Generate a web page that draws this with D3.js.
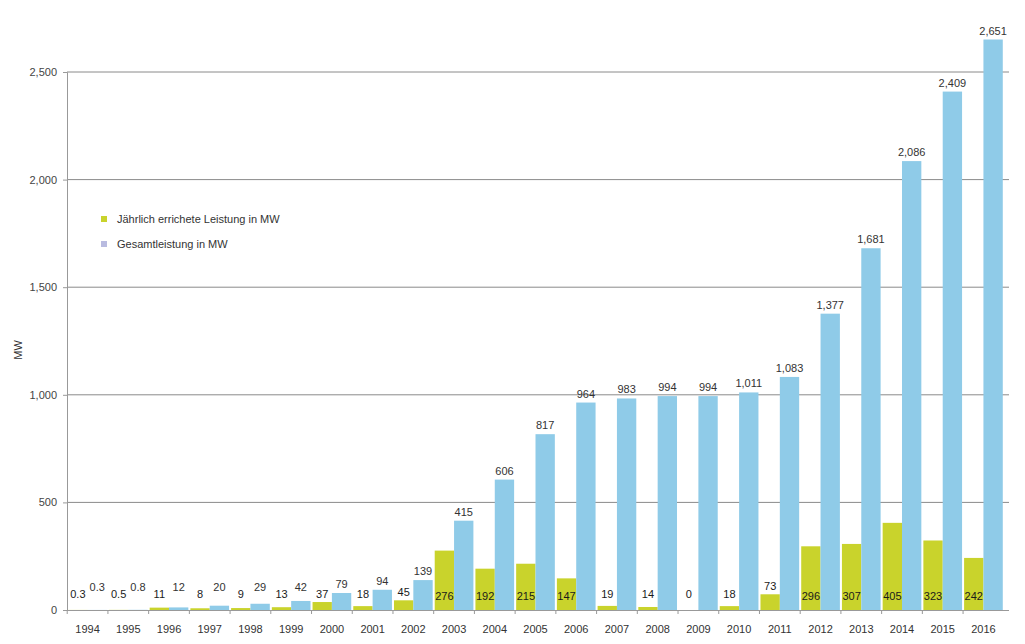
<!DOCTYPE html>
<html><head><meta charset="utf-8">
<script src="https://cdn.jsdelivr.net/npm/d3@7"></script>
<style>
html,body{margin:0;padding:0;background:#fff;}
text{font-family:"Liberation Sans",Arial,Helvetica,sans-serif;}
</style></head>
<body><svg id="c" width="1025" height="644"></svg>
<script>
const years = ["1994","1995","1996","1997","1998","1999","2000","2001","2002","2003","2004","2005","2006","2007","2008","2009","2010","2011","2012","2013","2014","2015","2016"];
const annual = [0.3,0.5,11,8,9,13,37,18,45,276,192,215,147,19,14,0,18,73,296,307,405,323,242];
const total = [0.3,0.8,12,20,29,42,79,94,139,415,606,817,964,983,994,994,1011,1083,1377,1681,2086,2409,2651];
const yTicks = [0,500,1000,1500,2000,2500];
const seriesNames = ["Jährlich errichete Leistung in MW","Gesamtleistung in MW"];
const yLabel = "MW";

const svg = d3.select("#c");
const mLeft = 67, mRight = 1009, mBottom = 610;
const x = d3.scaleBand().domain(years).range([mLeft, 1004]).paddingInner(0.05).paddingOuter(0.03);
const xs = d3.scaleBand().domain([0,1]).range([0, x.bandwidth()]);
const y = d3.scaleLinear().domain([0,2500]).range([mBottom, 72]);
const fmt = d3.format(",");
const cYellow = "#c9d32c", cBlue = "#8fcbe8";

// gridlines
svg.append("g").selectAll("line").data(yTicks.filter(d=>d>0)).join("line")
  .attr("x1", mLeft).attr("x2", mRight).attr("y1", d=>y(d)).attr("y2", d=>y(d))
  .attr("stroke", "#8a8a8a").attr("stroke-width", 1);

// y axis
const ya = svg.append("g").attr("transform", `translate(${mLeft},0)`)
  .call(d3.axisLeft(y).tickValues(yTicks).tickFormat(fmt).tickSize(4).tickPadding(6));
ya.select(".domain").attr("stroke", "#999");
ya.selectAll(".tick line").attr("stroke", "#999");
ya.selectAll("text").attr("font-size", 11).attr("fill", "#444");

svg.append("text").attr("transform", `translate(22,350) rotate(-90)`)
  .attr("text-anchor","middle").attr("font-size", 11).attr("fill","#333").text(yLabel);

// bars
const g = svg.append("g");
g.selectAll(".ya").data(years).join("rect")
  .attr("x", d=>x(d)+xs(0)).attr("width", xs.bandwidth())
  .attr("y", (d,i)=>y(annual[i])).attr("height", (d,i)=>mBottom - y(annual[i]))
  .attr("fill", cYellow);
g.selectAll(".bl").data(years).join("rect")
  .attr("x", d=>x(d)+xs(1)).attr("width", xs.bandwidth())
  .attr("y", (d,i)=>y(total[i])).attr("height", (d,i)=>mBottom - y(total[i]))
  .attr("fill", cBlue);

// x axis
svg.append("line").attr("x1", mLeft).attr("x2", mRight).attr("y1", mBottom+0.5).attr("y2", mBottom+0.5).attr("stroke","#999");
const xa = svg.append("g").attr("transform", `translate(0,${mBottom})`)
  .call(d3.axisBottom(x).tickSize(0).tickPadding(15));
xa.select(".domain").remove();
xa.selectAll("text").attr("font-size", 11).attr("fill", "#333");
svg.append("g").selectAll("line").data(years).join("line")
  .attr("x1", d=>x(d)-x.step()*x.paddingInner()/2).attr("x2", d=>x(d)-x.step()*x.paddingInner()/2)
  .attr("y1", mBottom).attr("y2", mBottom+4).attr("stroke","#999");

// labels
const fmtV = v => v < 1 ? String(v) : fmt(v);
g.selectAll(".lb").data(years).join("text")
  .attr("x", d=>x(d)+xs(1)+xs.bandwidth()/2)
  .attr("y", (d,i)=>Math.min(y(total[i]) - 5, 591))
  .attr("text-anchor","middle").attr("font-size", 11).attr("fill","#333")
  .text((d,i)=>fmtV(total[i]));
g.selectAll(".ly").data(years).join("text")
  .attr("x", d=>x(d)+xs(0)+xs.bandwidth()/2)
  .attr("y", (d,i)=> (mBottom - y(annual[i]) >= 20) ? 600 : Math.min(598, y(annual[i]) - 4))
  .attr("text-anchor","middle").attr("font-size", 11).attr("fill","#1a1a1a")
  .text((d,i)=>fmtV(annual[i]));

// legend
const lg = svg.append("g").attr("transform","translate(104,219)");
const legColors = [cYellow, "#b9bbe0"];
seriesNames.forEach((n,i)=>{
  lg.append("rect").attr("x",-3).attr("y", i*25-3).attr("width",6).attr("height",6).attr("fill",legColors[i]);
  lg.append("text").attr("x", 13).attr("y", i*25+4).attr("font-size", 11).attr("fill","#333").text(n);
});
</script></body></html>
